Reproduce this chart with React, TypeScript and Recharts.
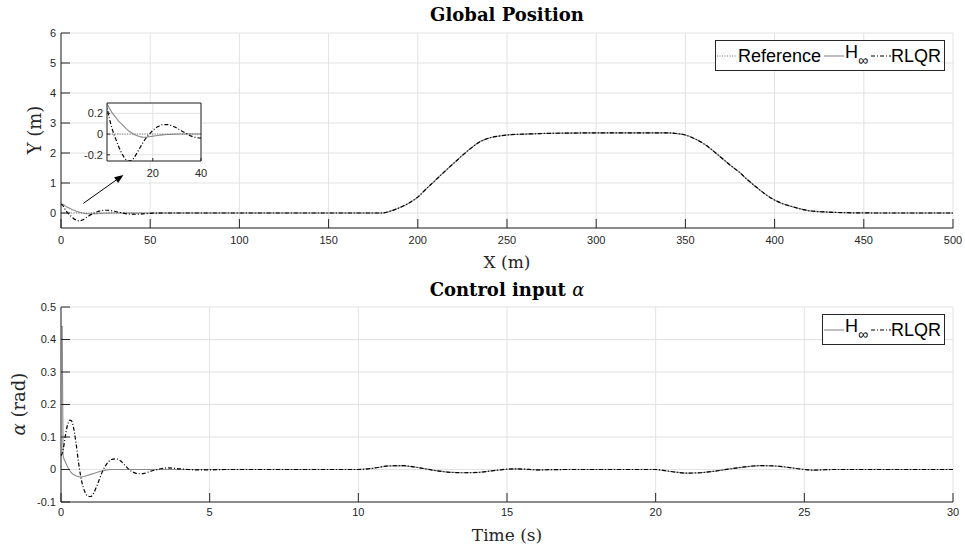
import React from "react";
import { LineChart, Line, CartesianGrid, XAxis, YAxis, ReferenceLine } from "recharts";

// Global position (X in m, Y in m)
const posX = [
  0, 1, 2, 3, 4, 5, 6, 7, 8, 9, 10, 11, 12, 13, 14, 15, 16, 17, 18, 19, 20,
  22, 24, 26, 28, 30, 32, 34, 36, 38, 40, 42, 44, 46, 48, 50,
  55, 60, 80, 100, 120, 140, 160, 170, 175,
  180, 185, 190, 195, 200, 205, 210, 215, 220, 225, 230, 235, 240, 245, 250,
  260, 270, 280, 300, 320, 340,
  345, 350, 355, 360, 365, 370, 375, 380, 385, 390, 395, 400, 405, 410, 415, 420,
  430, 440, 460, 480, 500,
];
const posRef = [
  0, 0, 0, 0, 0, 0, 0, 0, 0, 0, 0, 0, 0, 0, 0, 0, 0, 0, 0, 0, 0,
  0, 0, 0, 0, 0, 0, 0, 0, 0, 0, 0, 0, 0, 0, 0,
  0, 0, 0, 0, 0, 0, 0, 0, 0,
  0, 0.07, 0.18, 0.33, 0.53, 0.82, 1.1, 1.38, 1.65, 1.92, 2.17, 2.38, 2.5, 2.56, 2.6,
  2.63, 2.65, 2.66, 2.67, 2.67, 2.67,
  2.65, 2.6, 2.48, 2.32, 2.1, 1.85, 1.6, 1.37, 1.1, 0.85, 0.62, 0.43, 0.3, 0.21, 0.13, 0.07,
  0.03, 0.01, 0, 0, 0,
];
const posHinf = [
  0.3, 0.29, 0.25, 0.21, 0.18, 0.15, 0.12, 0.1, 0.075, 0.05, 0.03, 0.015, 0, -0.012, -0.02, -0.027, -0.03, -0.03, -0.027, -0.024, -0.02,
  -0.014, -0.008, -0.004, -0.002, 0, 0, 0, 0, 0, 0, 0, 0, 0, 0, 0,
  0, 0, 0, 0, 0, 0, 0, 0, 0,
  0, 0.07, 0.18, 0.33, 0.53, 0.82, 1.1, 1.38, 1.65, 1.92, 2.17, 2.38, 2.5, 2.56, 2.6,
  2.63, 2.65, 2.66, 2.67, 2.67, 2.67,
  2.65, 2.6, 2.48, 2.32, 2.1, 1.85, 1.6, 1.37, 1.1, 0.85, 0.62, 0.43, 0.3, 0.21, 0.13, 0.07,
  0.03, 0.01, 0, 0, 0,
];
const posRlqr = [
  0.3, 0.25, 0.15, 0.06, -0.01, -0.07, -0.13, -0.18, -0.22, -0.25, -0.26, -0.255, -0.235, -0.2, -0.16, -0.12, -0.08, -0.045, -0.015, 0.01, 0.035,
  0.07, 0.09, 0.092, 0.08, 0.058, 0.03, 0.005, -0.02, -0.033, -0.04, -0.042, -0.038, -0.03, -0.02, -0.012,
  -0.002, 0, 0, 0, 0, 0, 0, 0, 0,
  0, 0.07, 0.18, 0.33, 0.53, 0.82, 1.1, 1.38, 1.65, 1.92, 2.17, 2.38, 2.5, 2.56, 2.6,
  2.63, 2.65, 2.66, 2.67, 2.67, 2.67,
  2.65, 2.6, 2.48, 2.32, 2.1, 1.85, 1.6, 1.37, 1.1, 0.85, 0.62, 0.43, 0.3, 0.21, 0.13, 0.07,
  0.03, 0.01, 0, 0, 0,
];
const posXTicks = [0, 50, 100, 150, 200, 250, 300, 350, 400, 450, 500];
const posYTicks = [0, 1, 2, 3, 4, 5, 6];
const insetXTicks = [20, 40];
const insetYTicks = [-0.2, 0, 0.2];

// Control input alpha (rad) over time (s)
const timeT = [
  0, 0.04, 0.07, 0.1, 0.15, 0.2, 0.25, 0.3, 0.35, 0.4, 0.45, 0.5, 0.55, 0.6,
  0.7, 0.8, 0.9, 1.0, 1.1, 1.2, 1.3, 1.4, 1.5, 1.6, 1.7, 1.8, 1.9, 2.0, 2.1, 2.2, 2.3, 2.4, 2.5, 2.6, 2.7, 2.8, 2.9, 3.0,
  3.2, 3.4, 3.6, 3.8, 4.0, 4.3, 4.6, 5.0, 5.5, 6, 7, 8, 9, 10,
  10.5, 11, 11.5, 12, 12.5, 13, 13.5, 14, 14.5, 15, 15.3, 15.6, 16, 17, 18, 19, 20,
  20.5, 21, 21.5, 22, 22.5, 23, 23.5, 24, 24.5, 25, 25.3, 25.6, 26, 27, 28, 29, 30,
];
const alphaHinf = [
  0.44, 0.44, 0.043, 0.032, 0.022, 0.012, 0.003, -0.004, -0.01, -0.014, -0.017, -0.019, -0.021, -0.022,
  -0.023, -0.021, -0.018, -0.015, -0.012, -0.009, -0.006, -0.004, -0.002, -0.001, 0, 0, 0, 0, 0, 0, 0, 0, 0, 0, 0, 0, 0, 0,
  0, 0, 0, 0, 0, 0, 0, 0, 0, 0, 0, 0, 0, 0,
  0.004, 0.011, 0.012, 0.006, -0.002, -0.008, -0.01, -0.009, -0.004, 0.001, 0.002, 0.001, -0.001, 0, 0, 0, 0,
  -0.006, -0.011, -0.01, -0.005, 0.002, 0.008, 0.012, 0.011, 0.006, 0, -0.002, -0.001, 0, 0, 0, 0, 0,
];
const alphaRlqr = [
  0.043, 0.05, 0.062, 0.075, 0.105, 0.13, 0.145, 0.152, 0.15, 0.138, 0.115, 0.085, 0.05, 0.015,
  -0.038, -0.068, -0.082, -0.083, -0.072, -0.052, -0.028, -0.005, 0.012, 0.024, 0.031, 0.033, 0.032, 0.027, 0.018, 0.008, -0.001, -0.007, -0.011, -0.013, -0.013, -0.012, -0.009, -0.006,
  -0.001, 0.003, 0.005, 0.004, 0.002, 0, -0.001, -0.001, 0, 0, 0, 0, 0, 0,
  0.004, 0.011, 0.012, 0.006, -0.002, -0.008, -0.01, -0.009, -0.004, 0.001, 0.002, 0.001, -0.001, 0, 0, 0, 0,
  -0.006, -0.011, -0.01, -0.005, 0.002, 0.008, 0.012, 0.011, 0.006, 0, -0.002, -0.001, 0, 0, 0, 0, 0,
];
const timeTicks = [0, 5, 10, 15, 20, 25, 30];
const alphaTicks = [-0.1, 0, 0.1, 0.2, 0.3, 0.4, 0.5];

const posData = posX.map((x, i) => ({ x, ref: posRef[i], hinf: posHinf[i], rlqr: posRlqr[i] }));
const alphaData = timeT.map((t, i) => ({ t, hinf: alphaHinf[i], rlqr: alphaRlqr[i] }));

const AXIS = "#262626";
const GRID = "#e2e2e2";
const tickStyle = { fontFamily: "'Liberation Sans', Arial, sans-serif", fontSize: 11, fill: AXIS };
const serif = "'DejaVu Serif', serif";

const titleStyle: React.CSSProperties = {
  position: "absolute", left: 61, width: 892, textAlign: "center",
  fontFamily: serif, fontWeight: "bold", fontSize: 18, color: "#000", lineHeight: "20px",
};
const xLabelStyle: React.CSSProperties = {
  position: "absolute", left: 61, width: 892, textAlign: "center",
  fontFamily: serif, fontSize: 17, color: AXIS, lineHeight: "20px",
};
const yLabelStyle: React.CSSProperties = {
  position: "absolute", width: 120, textAlign: "center",
  fontFamily: serif, fontSize: 18, color: AXIS, lineHeight: "20px", transform: "rotate(-90deg)",
};

const REF_STYLE = { stroke: "#6e6e6e", dash: "1 1.5", width: 1 };
const HINF_STYLE = { stroke: "#8a8a8a", dash: undefined, width: 1.1 };
const RLQR_STYLE = { stroke: "#000", dash: "4 2 1 2", width: 1.2 };

const Arrow = (props: any) => {
  const { x1, y1, x2, y2 } = props;
  const ang = Math.atan2(y2 - y1, x2 - x1);
  const len = 9, half = 3.5;
  const bx = x2 - len * Math.cos(ang), by = y2 - len * Math.sin(ang);
  const px = -Math.sin(ang) * half, py = Math.cos(ang) * half;
  return (
    <g>
      <line x1={x1} y1={y1} x2={bx} y2={by} stroke="#000" strokeWidth={1} />
      <polygon points={`${x2},${y2} ${bx + px},${by + py} ${bx - px},${by - py}`} fill="#000" />
    </g>
  );
};

function Sample({ s }: { s: { stroke: string; dash?: string; width: number } }) {
  return (
    <svg width={20} height={6} style={{ display: "block" }}>
      <line x1={0} y1={3} x2={20} y2={3} stroke={s.stroke} strokeDasharray={s.dash} strokeWidth={s.width} />
    </svg>
  );
}

function LegendBox({ left, top, showRef }: { left: number; top: number; showRef: boolean }) {
  const txt: React.CSSProperties = { fontFamily: "'Liberation Sans', Arial, sans-serif", fontSize: 18, color: "#000", lineHeight: "20px" };
  return (
    <div style={{ position: "absolute", left, top, height: 29, border: "1px solid " + AXIS, background: "#fff", display: "flex", alignItems: "center", padding: "0 3px 0 1px" }}>
      {showRef && <Sample s={REF_STYLE} />}
      {showRef && <span style={{ ...txt, marginLeft: 1, marginRight: 3 }}>Reference</span>}
      <Sample s={HINF_STYLE} />
      <span style={{ ...txt, marginLeft: 1, marginRight: 3 }}>H<sub style={{ fontSize: 14, verticalAlign: "-7px" }}>∞</sub></span>
      <Sample s={RLQR_STYLE} />
      <span style={{ ...txt }}>RLQR</span>
    </div>
  );
}

export default function App() {
  return (
    <div style={{ position: "absolute", left: 0, top: 0, width: 965, height: 551, background: "#fff", overflow: "hidden" }}>
      {/* Global Position */}
      <div style={{ ...titleStyle, top: 5 }}>Global Position</div>
      <div style={{ position: "absolute", left: 0, top: 0 }}>
        <LineChart width={965} height={270} data={posData} margin={{ top: 33, right: 12, bottom: 12, left: 1 }}>
          <CartesianGrid stroke={GRID} />
          <XAxis type="number" dataKey="x" domain={[0, 500]} ticks={posXTicks} interval={0} height={30}
            tickSize={-9} tickMargin={17} stroke={AXIS} tick={tickStyle} />
          <YAxis type="number" domain={[-0.5, 6]} ticks={posYTicks} interval={0} width={60}
            tickSize={-9} tickMargin={14} stroke={AXIS} tick={tickStyle} />
          <Line type="monotone" dataKey="ref" stroke={REF_STYLE.stroke} strokeDasharray={REF_STYLE.dash} strokeWidth={REF_STYLE.width} dot={false} isAnimationActive={false} />
          <Line type="monotone" dataKey="hinf" stroke={HINF_STYLE.stroke} strokeWidth={HINF_STYLE.width} dot={false} isAnimationActive={false} />
          <Line type="monotone" dataKey="rlqr" stroke={RLQR_STYLE.stroke} strokeDasharray={RLQR_STYLE.dash} strokeWidth={RLQR_STYLE.width} dot={false} isAnimationActive={false} />
          <ReferenceLine segment={[{ x: 12.5, y: 0.32 }, { x: 35, y: 1.27 }]} shape={Arrow} ifOverflow="visible" />
        </LineChart>
      </div>
      <div style={{ ...xLabelStyle, top: 252 }}>X (m)</div>
      <div style={{ ...yLabelStyle, left: 35 - 60, top: 130 - 10 }}>Y (m)</div>
      <LegendBox left={715} top={40} showRef={true} />

      {/* inset zoom */}
      <div style={{ position: "absolute", left: 77, top: 101 }}>
        <LineChart width={140} height={80} data={posData} margin={{ top: 1, right: 15, bottom: 0, left: 0 }}>
          <CartesianGrid stroke={GRID} fill="#fff" />
          <XAxis type="number" dataKey="x" domain={[1, 40]} ticks={insetXTicks} interval={0} allowDataOverflow height={20}
            tickSize={-3} tickMargin={11} stroke={AXIS} tick={tickStyle} />
          <YAxis type="number" domain={[-0.26, 0.3]} ticks={insetYTicks} interval={0} allowDataOverflow width={30}
            tickSize={-3} tickMargin={7} stroke={AXIS} tick={tickStyle} />
          <XAxis xAxisId="top" orientation="top" type="number" dataKey="x" domain={[1, 40]} allowDataOverflow height={1}
            tick={false} tickLine={false} stroke={AXIS} />
          <YAxis yAxisId="right" orientation="right" type="number" domain={[-0.26, 0.3]} allowDataOverflow width={1}
            tick={false} tickLine={false} stroke={AXIS} />
          <Line type="monotone" dataKey="hinf" stroke={HINF_STYLE.stroke} strokeWidth={HINF_STYLE.width} dot={false} isAnimationActive={false} />
          <Line type="monotone" dataKey="ref" stroke={REF_STYLE.stroke} strokeDasharray={REF_STYLE.dash} strokeWidth={REF_STYLE.width} dot={false} isAnimationActive={false} />
          <Line type="monotone" dataKey="rlqr" stroke={RLQR_STYLE.stroke} strokeDasharray={RLQR_STYLE.dash} strokeWidth={RLQR_STYLE.width} dot={false} isAnimationActive={false} />
        </LineChart>
      </div>

      {/* Control input alpha */}
      <div style={{ ...titleStyle, top: 280 }}>Control input <i style={{ fontWeight: "normal" }}>α</i></div>
      <div style={{ position: "absolute", left: 0, top: 270 }}>
        <LineChart width={965} height={281} data={alphaData} margin={{ top: 37, right: 12, bottom: 19, left: 1 }}>
          <CartesianGrid stroke={GRID} />
          <XAxis type="number" dataKey="t" domain={[0, 30]} ticks={timeTicks} interval={0} height={30}
            tickSize={-9} tickMargin={15} stroke={AXIS} tick={tickStyle} />
          <YAxis type="number" domain={[-0.1, 0.5]} ticks={alphaTicks} interval={0} width={60}
            tickSize={-9} tickMargin={14} stroke={AXIS} tick={tickStyle} />
          <Line type="linear" dataKey="hinf" stroke={HINF_STYLE.stroke} strokeWidth={HINF_STYLE.width} dot={false} isAnimationActive={false} />
          <Line type="monotone" dataKey="rlqr" stroke={RLQR_STYLE.stroke} strokeDasharray={RLQR_STYLE.dash} strokeWidth={RLQR_STYLE.width} dot={false} isAnimationActive={false} />
        </LineChart>
      </div>
      <div style={{ ...xLabelStyle, top: 525 }}>Time (s)</div>
      <div style={{ ...yLabelStyle, left: 19 - 60, top: 404 - 10 }}><i>α</i> (rad)</div>
      <LegendBox left={822} top={314} showRef={false} />
    </div>
  );
}
